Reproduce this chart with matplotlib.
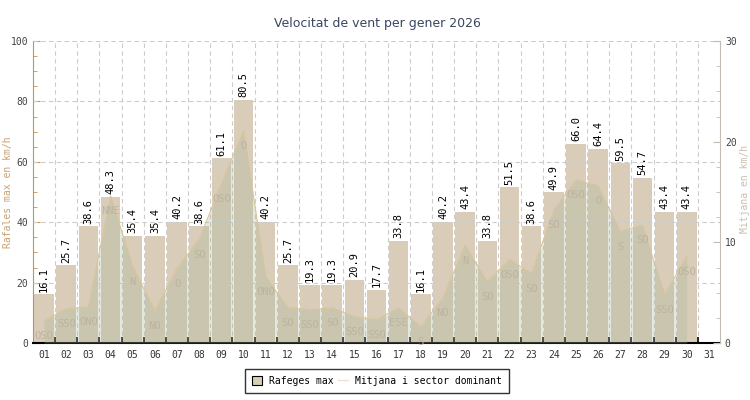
import matplotlib
matplotlib.use("Agg")
import matplotlib.pyplot as plt
from matplotlib.patches import Patch
from matplotlib.lines import Line2D
from matplotlib.ticker import MultipleLocator, FixedLocator, NullFormatter

days = list(range(1, 32))
day_labels = [f"{d:02d}" for d in days]
gust_max = [16.1, 25.7, 38.6, 48.3, 35.4, 35.4, 40.2, 38.6, 61.1, 80.5,
            40.2, 25.7, 19.3, 19.3, 20.9, 17.7, 33.8, 16.1, 40.2, 43.4,
            33.8, 51.5, 38.6, 49.9, 66.0, 64.4, 59.5, 54.7, 43.4, 43.4]
mean_wind = [2.2, 3.4, 3.6, 14.6, 7.6, 3.2, 7.4, 10.3, 15.8, 21.1,
             6.6, 3.5, 3.3, 3.5, 2.6, 2.3, 3.5, 1.6, 4.5, 9.7,
             6.1, 8.3, 6.9, 13.2, 16.2, 15.6, 11.1, 11.7, 4.8, 8.6]
sectors = ["OSO", "SSO", "ONO", "NNE", "N", "NO", "O", "SO", "OSO", "O",
           "ONO", "SO", "SSO", "SO", "SSO", "SSO", "ESE", "S", "NO", "N",
           "SO", "OSO", "SO", "SO", "OSO", "O", "S", "SO", "SSO", "OSO"]

MONO = "DejaVu Sans Mono"
bar_color = "#d9cdba"
fill_color = "#a9b596"
line_color = "#d8c49c"

fig = plt.figure(figsize=(7.5, 4), dpi=100)
ax = fig.add_axes([33/750, 57/400, 687/750, 302/400])
bar_days = days[:len(gust_max)]
ax.bar(bar_days, gust_max, width=0.88, color=bar_color, zorder=2)
ax.set_xlim(0.5, 31.5)
ax.set_ylim(0, 100)

for d, v in zip(bar_days, gust_max):
    ax.annotate(f"{v:.1f}", (d, v), xytext=(0, 2), textcoords="offset points",
                rotation=90, ha="center", va="bottom", fontsize=7.5,
                family=MONO, color="black", zorder=5)

# grid
ax.set_yticks([0, 20, 40, 60, 80, 100])
ax.yaxis.set_minor_locator(MultipleLocator(5))
for y in [20, 40, 60, 80, 100]:
    ax.axhline(y, color="#cccccc", lw=0.8, ls=(0, (4, 3)), zorder=3)
for b in range(1, 31):
    ax.axvline(b + 0.5, color="#cccccc", lw=0.8, ls=(0, (4, 3)), zorder=1)

ax.xaxis.set_major_locator(FixedLocator([d + 0.5 for d in days[:-1]]))
ax.xaxis.set_major_formatter(NullFormatter())
ax.xaxis.set_minor_locator(FixedLocator(days))
ax.set_xticklabels(day_labels, minor=True)
ax.tick_params(axis="x", which="major", direction="in", length=4, width=1.2, color="black")
ax.tick_params(axis="x", which="minor", length=0, pad=5, labelsize=7, labelcolor="#333333")
for lab in ax.get_xticklabels(minor=True):
    lab.set_family(MONO)

ax.tick_params(axis="y", which="both", direction="in", color="#c8924a", labelsize=7,
               labelcolor="#444444")
ax.tick_params(axis="y", which="major", length=5)
ax.tick_params(axis="y", which="minor", length=3)
for lab in ax.get_yticklabels():
    lab.set_family(MONO)

ax.spines["top"].set_visible(False)
ax.spines["right"].set_visible(False)
ax.spines["left"].set_color("#c8924a")
ax.spines["bottom"].set_color("black")
ax.spines["bottom"].set_linewidth(1.5)

ax2 = ax.twinx()
ax2.set_ylim(0, 30)
ax2.fill_between(bar_days, mean_wind, 0, color=fill_color, alpha=0.3, lw=0, zorder=2)
ax2.plot(bar_days, mean_wind, color=line_color, lw=0.8, zorder=3)
for d, v, s in zip(bar_days, mean_wind, sectors):
    ax2.annotate(s, (d, v), xytext=(0, -11), textcoords="offset points",
                 ha="center", va="center", fontsize=7.5, family=MONO,
                 color="#bdb39e", zorder=4)
ax2.set_yticks([0, 10, 20, 30])
ax2.yaxis.set_minor_locator(MultipleLocator(2.5))
ax2.tick_params(axis="y", which="both", direction="in", color="#c4bcae", labelsize=7,
                labelcolor="#444444")
ax2.tick_params(axis="y", which="major", length=5)
ax2.tick_params(axis="y", which="minor", length=3)
for lab in ax2.get_yticklabels():
    lab.set_family(MONO)
for sp in ["top", "left", "bottom"]:
    ax2.spines[sp].set_visible(False)
ax2.spines["right"].set_color("#c4bcae")

fig.text(8/750, 1 - 192/400, "Rafales max en km/h", rotation=90, ha="center", va="center",
         family=MONO, fontsize=7, color="#c8a070")
fig.text(745/750, 1 - 189/400, "Mitjana en km/h", rotation=90, ha="center", va="center",
         family=MONO, fontsize=7, color="#c8c0b0")

fig.text(377/750, 1 - 24/400, "Velocitat de vent per gener 2026", ha="center", va="center",
         fontsize=9, color="#3a4660", family="DejaVu Sans")

handles = [Patch(facecolor=bar_color, edgecolor="black", lw=0.8),
           Line2D([0], [0], color="#ece2cc", lw=1)]
leg = fig.legend(handles, ["Rafeges max", "Mitjana i sector dominant"],
                 loc="center", bbox_to_anchor=(377/750, 1 - 381/400), ncol=2,
                 prop={"family": MONO, "size": 7}, frameon=True, fancybox=False,
                 edgecolor="black", handlelength=1.0, handleheight=1.0,
                 handletextpad=0.7, columnspacing=0.5, borderpad=0.7)
leg.get_frame().set_linewidth(1.0)

fig.savefig("out.png", dpi=100)
